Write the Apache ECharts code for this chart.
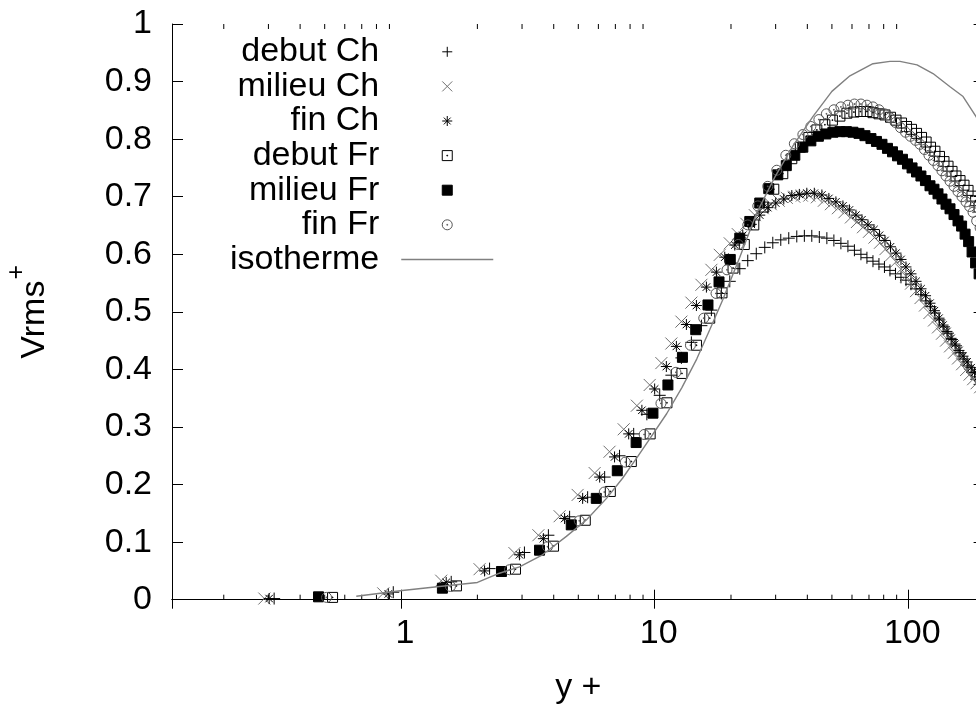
<!DOCTYPE html>
<html><head><meta charset="utf-8">
<script src="https://cdn.jsdelivr.net/npm/echarts@6/dist/echarts.min.js"></script>
<style>html,body{margin:0;padding:0;background:#fff}#c{width:976px;height:704px}</style>
</head><body><div id="c"></div>
<script>
const FONT = '"Liberation Sans", Arial, Helvetica, sans-serif';

// axes
const xMin = 0.125, xMax = 200;
const xTickLabels = [1, 10, 100];
const xMinorTicks = [0.2,0.3,0.4,0.5,0.6,0.7,0.8,0.9,2,3,4,5,6,7,8,9,20,30,40,50,60,70,80,90];
const yMin = 0, yMax = 1, yStep = 0.1;

const seriesNames = ['debut Ch','milieu Ch','fin Ch','debut Fr','milieu Fr','fin Fr','isotherme'];

// debut Ch (+)
const debutChX = [0.316,0.932,1.577,2.234,3.066,3.811,4.621,5.442,6.351,7.271,8.267,9.318,10.47,11.64,12.75,13.96,15.29,16.74,18.33,19.78,21.66,23.29,25.16,27.18,29.23,31.43,33.79,36.35,38.93,41.65,44.60,47.76,50.90,54.25,57.82,61.33,65.07,68.71,72.58,76.64,80.57,84.70,89.05,93.61,97.97,102.5,107.3,112.2,117.5,122.4,127.5,132.7,138.3,143.4,148.7,154.3,160.0,165.9,172.0,178.5,185.2,191.1,197.3,203.7,210.2];
const debutChY = [0.002,0.013,0.031,0.054,0.082,0.112,0.144,0.178,0.213,0.250,0.288,0.322,0.355,0.390,0.420,0.447,0.476,0.503,0.532,0.553,0.575,0.589,0.601,0.612,0.620,0.625,0.628,0.631,0.632,0.632,0.630,0.628,0.624,0.619,0.614,0.607,0.600,0.594,0.588,0.583,0.578,0.572,0.566,0.560,0.555,0.548,0.540,0.530,0.519,0.509,0.498,0.486,0.474,0.463,0.452,0.441,0.429,0.418,0.406,0.395,0.383,0.374,0.365,0.357,0.349];

// milieu Ch (x)
const milieuChX = [0.289,0.851,1.44,2.04,2.80,3.48,4.22,4.97,5.80,6.64,7.55,8.51,9.56,10.63,11.64,12.75,13.96,15.29,16.74,18.06,19.78,21.27,22.98,24.82,26.69,28.70,30.86,33.20,35.55,38.04,40.73,43.62,46.48,49.54,52.80,56.01,59.42,62.75,66.28,69.99,73.58,77.35,81.32,85.49,89.47,93.59,97.95,102.5,107.3,111.8,116.4,121.2,126.3,131.0,135.8,140.9,146.1,151.5,157.1,163.0,169.1,174.5,180.2,186.0,192.0];
const milieuChY = [0.002,0.011,0.033,0.053,0.081,0.112,0.145,0.182,0.220,0.257,0.296,0.337,0.373,0.411,0.445,0.483,0.516,0.547,0.573,0.599,0.619,0.635,0.653,0.668,0.680,0.687,0.693,0.698,0.700,0.702,0.702,0.699,0.693,0.687,0.680,0.673,0.664,0.656,0.647,0.639,0.629,0.620,0.609,0.598,0.587,0.574,0.562,0.549,0.536,0.524,0.511,0.498,0.485,0.473,0.462,0.450,0.440,0.429,0.419,0.409,0.399,0.391,0.383,0.376,0.369];

// fin Ch (*)
const finChX = [0.302,0.891,1.507,2.135,2.930,3.642,4.416,5.201,6.070,6.949,7.901,8.906,10.00,11.12,12.18,13.34,14.61,16.00,17.52,18.90,20.70,22.26,24.05,25.97,27.93,30.03,32.30,34.74,37.20,39.81,42.62,45.65,48.64,51.84,55.25,58.61,62.18,65.67,69.36,73.24,77.00,80.95,85.10,89.46,93.63,97.94,102.5,107.3,112.3,117.0,121.8,126.8,132.2,137.1,142.1,147.5,152.9,158.5,164.4,170.6,177.0,182.6,188.6,194.6,200.9];
const finChY = [0.002,0.010,0.030,0.050,0.078,0.106,0.141,0.176,0.213,0.248,0.288,0.329,0.366,0.405,0.440,0.478,0.511,0.543,0.569,0.595,0.616,0.633,0.652,0.668,0.681,0.689,0.696,0.702,0.704,0.706,0.706,0.703,0.697,0.691,0.684,0.677,0.668,0.660,0.651,0.643,0.633,0.624,0.613,0.602,0.591,0.578,0.566,0.553,0.540,0.528,0.515,0.502,0.489,0.477,0.466,0.454,0.444,0.433,0.423,0.413,0.403,0.395,0.387,0.380,0.373];

// debut Fr (open square)
const debutFrX = [0.537,1.654,2.827,3.993,5.327,6.686,8.091,9.601,11.18,12.81,14.62,16.49,18.43,20.38,22.57,24.60,26.94,29.50,32.01,34.74,37.54,40.56,43.61,46.91,50.22,53.76,57.30,61.06,64.77,68.73,72.58,76.66,80.95,85.11,89.47,94.06,98.44,103.0,107.8,112.8,117.6,122.4,127.4,132.8,138.3,143.5,148.8,154.2,160.0,165.9,172.1,178.4,184.3,190.2,196.5,202.7,209.3,216.1,223.1];
const debutFrY = [0.004,0.024,0.053,0.093,0.138,0.188,0.240,0.288,0.342,0.393,0.442,0.489,0.533,0.576,0.617,0.651,0.682,0.713,0.740,0.766,0.786,0.803,0.816,0.825,0.833,0.840,0.845,0.847,0.848,0.848,0.846,0.844,0.842,0.838,0.833,0.828,0.822,0.817,0.810,0.803,0.795,0.786,0.779,0.770,0.761,0.753,0.744,0.736,0.728,0.720,0.711,0.701,0.693,0.682,0.672,0.661,0.651,0.640,0.630];

// milieu Fr (filled square)
const milieuFrX = [0.4728,1.456,2.489,3.516,4.690,5.887,7.124,8.453,9.847,11.28,12.87,14.52,16.23,17.94,19.87,21.66,23.72,25.97,28.18,30.59,33.05,35.71,38.40,41.30,44.22,47.33,50.45,53.76,57.03,60.51,63.90,67.49,71.27,74.93,78.77,82.81,86.67,90.70,94.88,99.30,103.5,107.8,112.2,116.9,121.8,126.3,131.0,135.8,140.9,146.1,151.5,157.1,162.3,167.5,173.0,178.5,184.3,190.3,196.4];
const milieuFrY = [0.005,0.020,0.049,0.086,0.130,0.176,0.224,0.273,0.324,0.373,0.421,0.469,0.512,0.552,0.591,0.628,0.657,0.689,0.714,0.738,0.754,0.772,0.786,0.797,0.805,0.809,0.812,0.813,0.813,0.812,0.810,0.806,0.801,0.796,0.791,0.784,0.778,0.771,0.765,0.757,0.750,0.743,0.736,0.728,0.719,0.713,0.705,0.696,0.687,0.679,0.669,0.658,0.649,0.635,0.622,0.604,0.585,0.566,0.547];

// fin Fr (circle)
const finFrX = [0.5085,1.566,2.677,3.781,5.044,6.331,7.662,9.091,10.59,12.13,13.84,15.62,17.46,19.29,21.37,23.30,25.51,27.93,30.31,32.90,35.55,38.41,41.30,44.42,47.56,50.90,54.26,57.82,61.34,65.08,68.72,72.59,76.65,80.59,84.72,89.06,93.21,97.55,102.0,106.8,111.3,115.9,120.7,125.7,131.0,135.8,140.9,146.1,151.5,157.1,162.9,169.0,174.6,180.1,186.1,192.0,198.2,204.7,211.2];
const finFrY = [0.004,0.023,0.052,0.092,0.137,0.187,0.239,0.287,0.341,0.395,0.442,0.489,0.532,0.573,0.617,0.651,0.684,0.718,0.746,0.772,0.792,0.808,0.822,0.834,0.844,0.851,0.856,0.859,0.861,0.861,0.859,0.856,0.851,0.844,0.837,0.829,0.820,0.812,0.805,0.798,0.791,0.782,0.772,0.763,0.754,0.745,0.736,0.727,0.718,0.709,0.700,0.691,0.683,0.673,0.658,0.646,0.634,0.621,0.609];

// isotherme (line)
const isoX = [0.666,1.012,1.417,2.001,2.444,2.932,3.612,4.487,5.389,6.460,7.472,8.490,9.387,11.15,12.79,14.65,16.49,18.56,21.66,25.27,29.77,35.06,42.06,49.99,58.88,72.58,84.72,92.75,108.3,125.2,146.1,164.5,185.1,200];
const isoY = [0.006,0.016,0.023,0.030,0.046,0.057,0.078,0.110,0.139,0.176,0.211,0.246,0.274,0.323,0.368,0.418,0.469,0.521,0.595,0.672,0.734,0.788,0.839,0.883,0.910,0.931,0.935,0.935,0.929,0.914,0.891,0.874,0.839,0.815];

const zip = (xs, ys) => xs.slice(0, Math.min(xs.length, ys.length)).map((x, i) => [x, ys[i]]);

const SYM = {
  plus: 'path://M0,5L10,5M5,0L5,10',
  cross: 'path://M0,0L10,10M10,0L0,10',
  star: 'path://M0,5L10,5M5,0L5,10M1.6,1.6L8.4,8.4M8.4,1.6L1.6,8.4',
  sqDot: 'path://M0,0L10,0L10,10L0,10Z M4.6,4.6L5.4,4.6L5.4,5.4L4.6,5.4Z',
  square: 'path://M0,0L10,0L10,10L0,10Z',
  circDot: 'path://M10,5A5,5,0,1,1,0,5A5,5,0,1,1,10,5Z M4.6,4.6L5.4,4.6L5.4,5.4L4.6,5.4Z'
};

function scatter(name, data, symbol, size, stroke, fill) {
  return {
    type: 'scatter', name, data, symbol, symbolSize: size, symbolKeepAspect: true,
    itemStyle: { color: fill || 'rgba(0,0,0,0)', borderColor: stroke, borderWidth: 1, opacity: 1 },
    emphasis: { disabled: true }, silent: true
  };
}

const chart = echarts.init(document.getElementById('c'), null, { renderer: 'canvas' });
const axisLine = { show: true, lineStyle: { color: '#000', width: 1 } };
const legendData = seriesNames.map(n => n === 'isotherme'
  ? { name: n, itemStyle: { color: 'rgba(0,0,0,0)', borderWidth: 0, opacity: 0 } }
  : { name: n });

const option = {
  animation: false,
  backgroundColor: '#fff',
  textStyle: { fontFamily: FONT, color: '#000' },
  grid: { left: 172, top: 24, width: 812.6, height: 575.7, containLabel: false, outerBoundsMode: 'none' },
  xAxis: [
    {
      type: 'log', logBase: 10, min: xMin, max: xMax, position: 'bottom',
      axisLine, splitLine: { show: false },
      axisTick: { show: true, inside: true, length: 10, lineStyle: { color: '#000' } },
      axisLabel: {
        fontFamily: FONT, fontSize: 34, color: '#000', margin: 17, padding: [0, 0, 0, 8],
        showMinLabel: false, showMaxLabel: false,
        formatter: v => { const r = Math.round(v * 1000) / 1000; return xTickLabels.includes(r) ? String(r) : ''; }
      },
      name: 'y +', nameLocation: 'middle', nameGap: 71,
      nameTextStyle: { fontFamily: FONT, fontSize: 34, color: '#000' }
    },
    {
      type: 'log', logBase: 10, min: xMin, max: xMax, position: 'top',
      axisLine, splitLine: { show: false },
      axisTick: { show: true, inside: true, length: 9, lineStyle: { color: '#000' } },
      axisLabel: { show: false }
    }
  ],
  yAxis: [
    {
      type: 'value', min: yMin, max: yMax, interval: yStep, position: 'left',
      axisLine, splitLine: { show: false },
      axisTick: { show: true, inside: true, length: 11, lineStyle: { color: '#000' } },
      axisLabel: { fontFamily: FONT, fontSize: 34, color: '#000', margin: 20 },
      name: '{a|Vrms}{b|+}', nameLocation: 'middle', nameGap: 120.5,
      nameTextStyle: {
        fontFamily: FONT, fontSize: 34, color: '#000',
        rich: {
          a: { fontFamily: FONT, fontSize: 34, lineHeight: 34, color: '#000' },
          b: { fontFamily: FONT, fontSize: 25, lineHeight: 25, color: '#000', padding: [0, 0, 34, 1] }
        }
      }
    },
    {
      type: 'value', min: yMin, max: yMax, interval: yStep, position: 'right',
      axisLine, splitLine: { show: false },
      axisTick: { show: true, inside: true, length: 11, lineStyle: { color: '#000' } },
      axisLabel: { show: false }
    }
  ],
  legend: {
    orient: 'vertical', align: 'right', right: 482, top: 34.5, padding: 0, itemGap: 0,
    itemWidth: 92, itemHeight: 10, selectedMode: false, symbolKeepAspect: true,
    textStyle: { fontFamily: FONT, fontSize: 34, color: '#000', lineHeight: 34.6, padding: [0, 17, 0, 0] },
    itemStyle: { borderWidth: 1 },
    lineStyle: { width: 1.5 },
    data: legendData
  },
  series: [
    scatter(seriesNames[0], zip(debutChX, debutChY), SYM.plus, 12, '#000'),
    scatter(seriesNames[1], zip(milieuChX, milieuChY), SYM.cross, 12, '#707070'),
    scatter(seriesNames[2], zip(finChX, finChY), SYM.star, 11, '#000'),
    scatter(seriesNames[3], zip(debutFrX, debutFrY), SYM.sqDot, 10, '#000'),
    scatter(seriesNames[4], zip(milieuFrX, milieuFrY), SYM.square, 10, '#000', '#000'),
    scatter(seriesNames[5], zip(finFrX, finFrY), SYM.circDot, 10, '#555'),
    {
      type: 'line', name: seriesNames[6], data: zip(isoX, isoY), symbol: 'none', showSymbol: false,
      lineStyle: { color: '#808080', width: 1.4 }, itemStyle: { color: 'rgba(0,0,0,0)', borderWidth: 0 },
      emphasis: { disabled: true }, silent: true, smooth: false
    },
    {
      type: 'custom', silent: true, xAxisIndex: 0, yAxisIndex: 0,
      data: xMinorTicks.map(v => [v, yMin]),
      renderItem: (params, api) => {
        const v = api.value(0);
        const b = api.coord([v, yMin]);
        const t = api.coord([v, yMax]);
        return {
          type: 'group', children: [
            { type: 'line', shape: { x1: b[0], y1: b[1], x2: b[0], y2: b[1] - 5 }, style: { stroke: '#000', lineWidth: 1 } },
            { type: 'line', shape: { x1: t[0], y1: t[1], x2: t[0], y2: t[1] + 5 }, style: { stroke: '#000', lineWidth: 1 } }
          ]
        };
      }
    }
  ]
};
chart.setOption(option);
</script>
</body></html>
